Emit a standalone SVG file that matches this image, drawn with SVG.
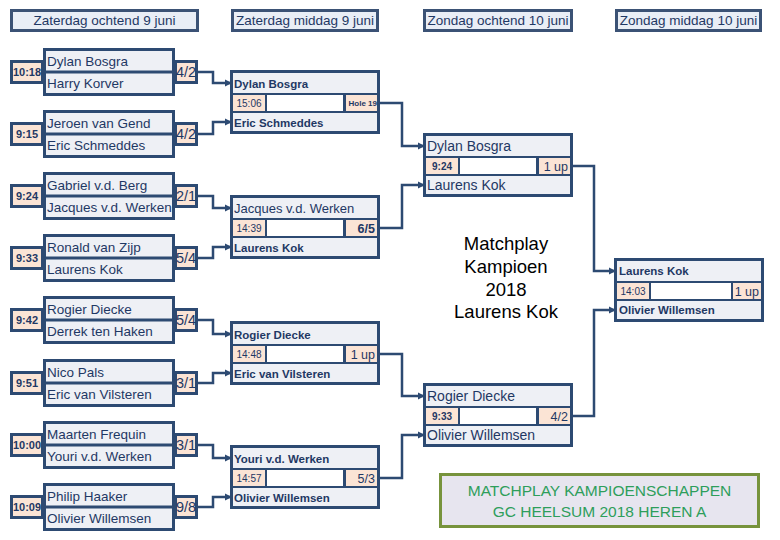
<svg xmlns="http://www.w3.org/2000/svg" width="780" height="540" viewBox="0 0 780 540">
<style>
text{font-family:"Liberation Sans",Arial,sans-serif;fill:#1f3864}
.hd{fill:#e9eef6;stroke:#3b5275;stroke-width:3}
.ht{font-size:13.5px;text-anchor:middle}
.nb{fill:#eef0f5;stroke:#2d4a72;stroke-width:3}
.tb{fill:#fbe4d5;stroke:#2d4a72;stroke-width:3}
.dv{stroke:#2d4a72;stroke-width:3}
.n1{font-size:13.5px}
.t1{font-size:11px;font-weight:bold;text-anchor:middle}
.s1{font-size:14.5px;text-anchor:middle}
.bx{fill:#2d4a72}
.nm{fill:#eef0f5}
.pc{fill:#fbe4d5}
.wh{fill:#ffffff}
.n2{font-size:11.5px;font-weight:bold}
.n2r{font-size:13px}
.n3{font-size:14px}
.t2{font-size:10px;text-anchor:middle}
.t2b{font-size:10px;font-weight:bold;text-anchor:middle}
.s2{font-size:12.5px;font-weight:bold;text-anchor:end}
.s3{font-size:12.5px;text-anchor:end}
.hole{font-size:8px;font-weight:bold;text-anchor:end}
.cn{fill:none;stroke:#2d4a72;stroke-width:2.5;marker-end:url(#ah)}
.champ{font-size:18.5px;text-anchor:middle;fill:#000000}
.ttl{font-size:15.5px;text-anchor:middle;fill:#2e9e5b}
</style>
<defs>
<marker id="ah" markerUnits="userSpaceOnUse" markerWidth="8" markerHeight="8" refX="7" refY="4" orient="auto">
<path d="M0,0.5 L7,4 L0,7.5 z" fill="#2d4a72"/>
</marker>
</defs>
<rect width="780" height="540" fill="#ffffff"/>

<g id="headers">
<g id="h1"><rect class="hd" x="11.5" y="10.5" width="186" height="20"/><text class="ht" x="104.5" y="25">Zaterdag ochtend 9 juni</text></g>
<g id="h2"><rect class="hd" x="232.5" y="10.5" width="145" height="20"/><text class="ht" x="305" y="25">Zaterdag middag 9 juni</text></g>
<g id="h3"><rect class="hd" x="424.5" y="10.5" width="147" height="20"/><text class="ht" x="498" y="25">Zondag ochtend 10 juni</text></g>
<g id="h4"><rect class="hd" x="616.5" y="10.5" width="144" height="20"/><text class="ht" x="688.5" y="25">Zondag middag 10 juni</text></g>
</g>

<g id="connectors">
<path class="cn" d="M198,72 H213 V83 H232"/>
<path class="cn" d="M198,134 H213 V122 H232"/>
<path class="cn" d="M198,196 H213 V208 H232"/>
<path class="cn" d="M198,258 H213 V247 H232"/>
<path class="cn" d="M198,320 H213 V334 H232"/>
<path class="cn" d="M198,383 H213 V373 H232"/>
<path class="cn" d="M198,445 H213 V458 H232"/>
<path class="cn" d="M198,507 H213 V497 H232"/>
<path class="cn" d="M380,103 H402 V146 H425"/>
<path class="cn" d="M380,228 H402 V185 H425"/>
<path class="cn" d="M380,354 H402 V396 H425"/>
<path class="cn" d="M380,478 H402 V435 H425"/>
<path class="cn" d="M573,166 H594 V271 H616"/>
<path class="cn" d="M573,416 H594 V310 H616"/>
</g>

<g id="m1" transform="translate(0,72)">
<rect class="nb" x="44.5" y="-22.5" width="129" height="45"/><line class="dv" x1="44.5" x2="173.5" y1="0" y2="0"/>
<rect class="tb" x="11.5" y="-10.5" width="31" height="21"/><rect class="tb" x="175.5" y="-10.5" width="21" height="21"/>
<text class="t1" x="27" y="4">10:18</text><text class="n1" x="47" y="-6">Dylan Bosgra</text><text class="n1" x="47" y="16">Harry Korver</text><text class="s1" x="186" y="5">4/2</text>
</g>
<g id="m2" transform="translate(0,134)">
<rect class="nb" x="44.5" y="-22.5" width="129" height="45"/><line class="dv" x1="44.5" x2="173.5" y1="0" y2="0"/>
<rect class="tb" x="11.5" y="-10.5" width="31" height="21"/><rect class="tb" x="175.5" y="-10.5" width="21" height="21"/>
<text class="t1" x="27" y="4">9:15</text><text class="n1" x="47" y="-6">Jeroen van Gend</text><text class="n1" x="47" y="16">Eric Schmeddes</text><text class="s1" x="186" y="5">4/2</text>
</g>
<g id="m3" transform="translate(0,196)">
<rect class="nb" x="44.5" y="-22.5" width="129" height="45"/><line class="dv" x1="44.5" x2="173.5" y1="0" y2="0"/>
<rect class="tb" x="11.5" y="-10.5" width="31" height="21"/><rect class="tb" x="175.5" y="-10.5" width="21" height="21"/>
<text class="t1" x="27" y="4">9:24</text><text class="n1" x="47" y="-6">Gabriel v.d. Berg</text><text class="n1" x="47" y="16">Jacques v.d. Werken</text><text class="s1" x="186" y="5">2/1</text>
</g>
<g id="m4" transform="translate(0,258)">
<rect class="nb" x="44.5" y="-22.5" width="129" height="45"/><line class="dv" x1="44.5" x2="173.5" y1="0" y2="0"/>
<rect class="tb" x="11.5" y="-10.5" width="31" height="21"/><rect class="tb" x="175.5" y="-10.5" width="21" height="21"/>
<text class="t1" x="27" y="4">9:33</text><text class="n1" x="47" y="-6">Ronald van Zijp</text><text class="n1" x="47" y="16">Laurens Kok</text><text class="s1" x="186" y="5">5/4</text>
</g>
<g id="m5" transform="translate(0,320)">
<rect class="nb" x="44.5" y="-22.5" width="129" height="45"/><line class="dv" x1="44.5" x2="173.5" y1="0" y2="0"/>
<rect class="tb" x="11.5" y="-10.5" width="31" height="21"/><rect class="tb" x="175.5" y="-10.5" width="21" height="21"/>
<text class="t1" x="27" y="4">9:42</text><text class="n1" x="47" y="-6">Rogier Diecke</text><text class="n1" x="47" y="16">Derrek ten Haken</text><text class="s1" x="186" y="5">5/4</text>
</g>
<g id="m6" transform="translate(0,383)">
<rect class="nb" x="44.5" y="-22.5" width="129" height="45"/><line class="dv" x1="44.5" x2="173.5" y1="0" y2="0"/>
<rect class="tb" x="11.5" y="-10.5" width="31" height="21"/><rect class="tb" x="175.5" y="-10.5" width="21" height="21"/>
<text class="t1" x="27" y="4">9:51</text><text class="n1" x="47" y="-6">Nico Pals</text><text class="n1" x="47" y="16">Eric van Vilsteren</text><text class="s1" x="186" y="5">3/1</text>
</g>
<g id="m7" transform="translate(0,445)">
<rect class="nb" x="44.5" y="-22.5" width="129" height="45"/><line class="dv" x1="44.5" x2="173.5" y1="0" y2="0"/>
<rect class="tb" x="11.5" y="-10.5" width="31" height="21"/><rect class="tb" x="175.5" y="-10.5" width="21" height="21"/>
<text class="t1" x="27" y="4">10:00</text><text class="n1" x="47" y="-6">Maarten Frequin</text><text class="n1" x="47" y="16">Youri v.d. Werken</text><text class="s1" x="186" y="5">3/1</text>
</g>
<g id="m8" transform="translate(0,507)">
<rect class="nb" x="44.5" y="-22.5" width="129" height="45"/><line class="dv" x1="44.5" x2="173.5" y1="0" y2="0"/>
<rect class="tb" x="11.5" y="-10.5" width="31" height="21"/><rect class="tb" x="175.5" y="-10.5" width="21" height="21"/>
<text class="t1" x="27" y="4">10:09</text><text class="n1" x="47" y="-6">Philip Haaker</text><text class="n1" x="47" y="16">Olivier Willemsen</text><text class="s1" x="186" y="5">9/8</text>
</g>

<g id="r2a" transform="translate(230,70)">
<rect class="bx" width="150" height="64"/><rect class="nm" x="3" y="3" width="144" height="20"/><rect class="pc" x="3" y="25" width="32" height="16"/><rect class="wh" x="37" y="25" width="76" height="16"/><rect class="pc" x="116" y="25" width="31" height="16"/><rect class="nm" x="3" y="43" width="144" height="18"/>
<text class="n2" x="4" y="18">Dylan Bosgra</text><text class="t2" x="19" y="37">15:06</text><text class="hole" x="147" y="36">Hole 19</text><text class="n2" x="4" y="57">Eric Schmeddes</text>
</g>
<g id="r2b" transform="translate(230,195)">
<rect class="bx" width="150" height="64"/><rect class="nm" x="3" y="3" width="144" height="20"/><rect class="pc" x="3" y="25" width="32" height="16"/><rect class="wh" x="37" y="25" width="76" height="16"/><rect class="pc" x="116" y="25" width="31" height="16"/><rect class="nm" x="3" y="43" width="144" height="18"/>
<text class="n2r" x="4" y="18">Jacques v.d. Werken</text><text class="t2" x="19" y="37">14:39</text><text class="s2" x="145" y="38">6/5</text><text class="n2" x="4" y="57">Laurens Kok</text>
</g>
<g id="r2c" transform="translate(230,321)">
<rect class="bx" width="150" height="64"/><rect class="nm" x="3" y="3" width="144" height="20"/><rect class="pc" x="3" y="25" width="32" height="16"/><rect class="wh" x="37" y="25" width="76" height="16"/><rect class="pc" x="116" y="25" width="31" height="16"/><rect class="nm" x="3" y="43" width="144" height="18"/>
<text class="n2" x="4" y="18">Rogier Diecke</text><text class="t2" x="19" y="37">14:48</text><text class="s3" x="145" y="38">1 up</text><text class="n2" x="4" y="57">Eric van Vilsteren</text>
</g>
<g id="r2d" transform="translate(230,445)">
<rect class="bx" width="150" height="64"/><rect class="nm" x="3" y="3" width="144" height="20"/><rect class="pc" x="3" y="25" width="32" height="16"/><rect class="wh" x="37" y="25" width="76" height="16"/><rect class="pc" x="116" y="25" width="31" height="16"/><rect class="nm" x="3" y="43" width="144" height="18"/>
<text class="n2" x="4" y="18">Youri v.d. Werken</text><text class="t2" x="19" y="37">14:57</text><text class="s3" x="145" y="38">5/3</text><text class="n2" x="4" y="57">Olivier Willemsen</text>
</g>

<g id="sf1" transform="translate(423,133)">
<rect class="bx" width="150" height="64"/><rect class="nm" x="3" y="3" width="144" height="20"/><rect class="pc" x="3" y="25" width="32" height="16"/><rect class="wh" x="37" y="25" width="76" height="16"/><rect class="pc" x="116" y="25" width="31" height="16"/><rect class="nm" x="3" y="43" width="144" height="18"/>
<text class="n3" x="4" y="18">Dylan Bosgra</text><text class="t2b" x="19" y="37">9:24</text><text class="s3" x="145" y="38">1 up</text><text class="n3" x="4" y="57">Laurens Kok</text>
</g>
<g id="sf2" transform="translate(423,383)">
<rect class="bx" width="150" height="64"/><rect class="nm" x="3" y="3" width="144" height="20"/><rect class="pc" x="3" y="25" width="32" height="16"/><rect class="wh" x="37" y="25" width="76" height="16"/><rect class="pc" x="116" y="25" width="31" height="16"/><rect class="nm" x="3" y="43" width="144" height="18"/>
<text class="n3" x="4" y="18">Rogier Diecke</text><text class="t2b" x="19" y="37">9:33</text><text class="s3" x="145" y="38">4/2</text><text class="n3" x="4" y="57">Olivier Willemsen</text>
</g>

<g id="final" transform="translate(614,258)">
<rect class="bx" width="150" height="64"/><rect class="nm" x="3" y="3" width="144" height="20"/><rect class="pc" x="3" y="25" width="32" height="16"/><rect class="wh" x="37" y="25" width="80" height="16"/><rect class="pc" x="119" y="25" width="28" height="16"/><rect class="nm" x="3" y="43" width="144" height="18"/>
<text class="n2" x="5" y="17">Laurens Kok</text><text class="t2" x="19" y="37">14:03</text><text class="s3" x="145" y="38">1 up</text><text class="n2" x="5" y="56">Olivier Willemsen</text>
</g>

<g id="champion">
<text class="champ" x="506" y="250">Matchplay</text>
<text class="champ" x="506" y="273">Kampioen</text>
<text class="champ" x="506" y="295.5">2018</text>
<text class="champ" x="506" y="317.5">Laurens Kok</text>
</g>

<g id="title">
<rect x="440.5" y="474.5" width="318" height="52" fill="#e7e5ef" stroke="#77933c" stroke-width="3"/>
<text class="ttl" x="599.5" y="496">MATCHPLAY KAMPIOENSCHAPPEN</text>
<text class="ttl" x="599.5" y="517">GC HEELSUM 2018 HEREN A</text>
</g>
</svg>
